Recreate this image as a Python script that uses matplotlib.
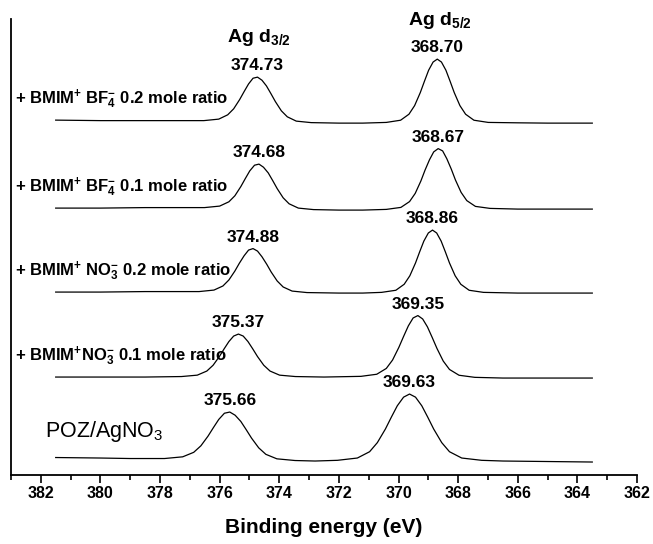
import numpy as np
import matplotlib
matplotlib.use('Agg')
import matplotlib.pyplot as plt
from matplotlib.ticker import MultipleLocator

plt.rcParams['font.family'] = ['Liberation Sans', 'DejaVu Sans']
plt.rcParams['mathtext.fontset'] = 'custom'
plt.rcParams['mathtext.rm'] = 'Liberation Sans'
plt.rcParams['mathtext.bf'] = 'Liberation Sans:bold'
plt.rcParams['mathtext.it'] = 'Liberation Sans:italic'

# spectra (binding energy in eV, intensity in arb. units, already offset)
# + BMIM+ BF4- 0.2 mole ratio
e_bf4_02 = [381.5, 380.0, 378.5, 377.5, 376.53, 376.03, 375.73, 375.53, 375.33, 375.18, 375.03, 374.88,
            374.73, 374.58, 374.43, 374.28, 374.13, 373.93, 373.73, 373.43, 372.93, 372.0, 371.2,
            370.41, 369.93, 369.65, 369.46, 369.27, 369.13, 368.99, 368.84, 368.70, 368.56, 368.41,
            368.27, 368.13, 367.94, 367.75, 367.47, 366.99, 366.0, 365.0, 363.5]
i_bf4_02 = [355.0, 354.5, 354.5, 354.5, 354.5, 356.0, 360.3, 366.3, 375.5, 383.5, 391.2, 396.9,
            398.0, 394.9, 389.2, 381.5, 373.5, 364.3, 358.3, 354.0, 352.5, 352.0, 352.0,
            352.7, 354.9, 360.9, 369.5, 382.5, 393.9, 404.9, 413.1, 416.0, 413.1, 404.9,
            393.9, 382.5, 369.5, 360.9, 354.9, 352.7, 352.3, 352.0, 352.0]

# + BMIM+ BF4- 0.1 mole ratio
e_bf4_01 = [381.5, 380.0, 378.5, 377.5, 376.51, 376.00, 375.69, 375.49, 375.29, 375.14, 374.99, 374.83,
            374.68, 374.53, 374.37, 374.22, 374.07, 373.87, 373.67, 373.36, 372.85, 372.0, 371.2,
            370.41, 369.92, 369.63, 369.44, 369.25, 369.11, 368.96, 368.82, 368.67, 368.52, 368.38,
            368.23, 368.09, 367.90, 367.71, 367.42, 366.93, 366.0, 365.0, 363.5]
i_bf4_01 = [267.0, 267.0, 267.5, 267.5, 267.5, 269.0, 273.3, 279.3, 288.5, 296.5, 304.2, 309.9,
            311.0, 307.9, 302.2, 294.5, 286.5, 277.3, 271.3, 267.0, 265.5, 265.0, 265.0,
            265.7, 267.7, 273.5, 281.7, 294.1, 305.0, 315.4, 323.2, 326.5, 324.2, 316.4,
            306.0, 295.1, 282.7, 274.5, 268.7, 266.7, 266.0, 266.0, 266.0]

# + BMIM+ NO3- 0.2 mole ratio
e_no3_02 = [381.5, 380.0, 378.5, 377.5, 376.69, 376.19, 375.89, 375.69, 375.49, 375.34, 375.18, 375.03,
            374.88, 374.73, 374.58, 374.42, 374.27, 374.07, 373.87, 373.57, 373.07, 372.0, 371.2,
            370.57, 370.09, 369.81, 369.62, 369.43, 369.29, 369.15, 369.00, 368.86, 368.72, 368.57,
            368.43, 368.29, 368.10, 367.91, 367.63, 367.15, 366.0, 365.0, 363.5]
i_no3_02 = [183.0, 183.0, 183.5, 183.5, 183.5, 185.0, 189.1, 195.1, 204.0, 211.8, 219.3, 225.0,
            226.5, 224.0, 218.3, 210.8, 203.0, 194.1, 188.1, 184.0, 182.5, 182.0, 182.0,
            182.7, 184.8, 190.8, 199.3, 212.1, 223.3, 234.0, 242.1, 245.0, 242.1, 234.0,
            223.3, 212.1, 199.3, 190.8, 184.8, 182.7, 182.0, 182.0, 182.0]

# + BMIM+ NO3- 0.1 mole ratio
e_no3_01 = [381.5, 380.0, 378.5, 377.28, 376.75, 376.43, 376.22, 376.01, 375.85, 375.69, 375.53,
            375.37, 375.21, 375.05, 374.89, 374.73, 374.52, 374.31, 373.99, 373.46, 372.5,
            371.26, 370.73, 370.41, 370.20, 369.99, 369.83, 369.67, 369.51, 369.35, 369.19, 369.03,
            368.87, 368.71, 368.50, 368.29, 367.97, 367.44, 366.5, 365.0, 363.5]
i_no3_01 = [98.0, 98.0, 98.0, 98.5, 99.9, 104.0, 109.8, 118.5, 126.2, 133.5, 139.0,
            141.0, 139.0, 133.5, 126.2, 118.5, 109.8, 104.0, 99.9, 98.5, 98.0,
            98.7, 100.8, 106.6, 115.0, 127.6, 138.6, 149.2, 157.1, 159.5, 156.1, 148.2,
            137.6, 126.6, 114.0, 105.6, 99.8, 97.7, 97.0, 97.0, 97.0]

# POZ/AgNO3
e_poz = [381.5, 380.0, 379.0, 377.85, 377.24, 376.87, 376.63, 376.39, 376.21, 376.03, 375.84,
         375.66, 375.48, 375.29, 375.11, 374.93, 374.69, 374.45, 374.08, 373.47, 372.8,
         372.05, 371.38, 370.97, 370.71, 370.44, 370.24, 370.04, 369.83, 369.63, 369.43, 369.22,
         369.02, 368.82, 368.55, 368.29, 367.88, 367.21, 366.5, 365.0, 363.5]
i_poz = [17.5, 17.0, 16.5, 16.5, 18.2, 22.7, 29.2, 38.9, 47.4, 55.6, 61.8,
         63.0, 59.8, 53.6, 45.4, 36.9, 27.2, 20.7, 16.2, 14.5, 14.0,
         14.7, 17.0, 23.3, 32.4, 46.0, 57.9, 69.3, 77.9, 81.0, 77.9, 69.3,
         57.9, 46.0, 32.4, 23.3, 17.0, 14.7, 14.0, 13.5, 13.0]

# peak positions quoted on the figure (d3/2, d5/2)
peaks_bf4_02 = [374.73, 368.70]
peaks_bf4_01 = [374.68, 368.67]
peaks_no3_02 = [374.88, 368.86]
peaks_no3_01 = [375.37, 369.35]
peaks_poz = [375.66, 369.63]

labels = [r'+ BMIM$^{\mathbf{+}}$ BF$_{\mathbf{4}}^{\mathbf{-}}$ 0.2 mole ratio',
          r'+ BMIM$^{\mathbf{+}}$ BF$_{\mathbf{4}}^{\mathbf{-}}$ 0.1 mole ratio',
          r'+ BMIM$^{\mathbf{+}}$ NO$_{\mathbf{3}}^{\mathbf{-}}$ 0.2 mole ratio',
          r'+ BMIM$^{\mathbf{+}}$NO$_{\mathbf{3}}^{\mathbf{-}}$ 0.1 mole ratio',
          r'POZ/AgNO$_3$']

spectra = [(e_bf4_02, i_bf4_02, peaks_bf4_02),
           (e_bf4_01, i_bf4_01, peaks_bf4_01),
           (e_no3_02, i_no3_02, peaks_no3_02),
           (e_no3_01, i_no3_01, peaks_no3_01),
           (e_poz, i_poz, peaks_poz)]

fig = plt.figure(figsize=(6.53, 5.44), dpi=100)
ax = fig.add_axes([0.0168, 0.1268, 0.9587, 0.838])

for k, (e, inten, pk) in enumerate(spectra):
    e = np.array(e)
    inten = np.array(inten)
    ax.plot(e, inten, color='black', lw=0.9)

    # peak value labels
    for p in pk:
        top = inten[np.argmin(np.abs(e - p))]
        ax.text(p, top + 7, '%.2f' % p, ha='center', va='baseline',
                fontsize=12.5, fontweight='bold')

    # trace label on the left, at the left baseline level
    if k < 4:
        ax.text(382.85, inten[0] + 17, labels[k], ha='left', va='baseline',
                fontsize=12, fontweight='bold')
    else:
        ax.text(381.85, inten[0] + 21, labels[k], ha='left', va='baseline',
                fontsize=15.5)

ax.text(374.69, 433, r'Ag d$_{\mathbf{3/2}}$', ha='center', va='baseline',
        fontsize=14, fontweight='bold')
ax.text(368.6, 450, r'Ag d$_{\mathbf{5/2}}$', ha='center', va='baseline',
        fontsize=14, fontweight='bold')

ax.set_xlim(383, 362)
ax.set_ylim(0, 456)
ax.set_yticks([])
ax.xaxis.set_major_locator(MultipleLocator(2))
ax.xaxis.set_minor_locator(MultipleLocator(1))
ax.tick_params(axis='x', which='major', direction='out', length=6, width=1.2, pad=2, labelsize=11.5)
ax.tick_params(axis='x', which='minor', direction='out', length=3.5, width=1.2)
for lab in ax.get_xticklabels():
    lab.set_fontweight('bold')

ax.spines['top'].set_visible(False)
ax.spines['right'].set_visible(False)
ax.spines['left'].set_linewidth(1.3)
ax.spines['bottom'].set_linewidth(1.3)

ax.set_xlabel('Binding energy (eV)', fontsize=15, fontweight='bold', labelpad=12)

plt.savefig('out.png', dpi=100)
